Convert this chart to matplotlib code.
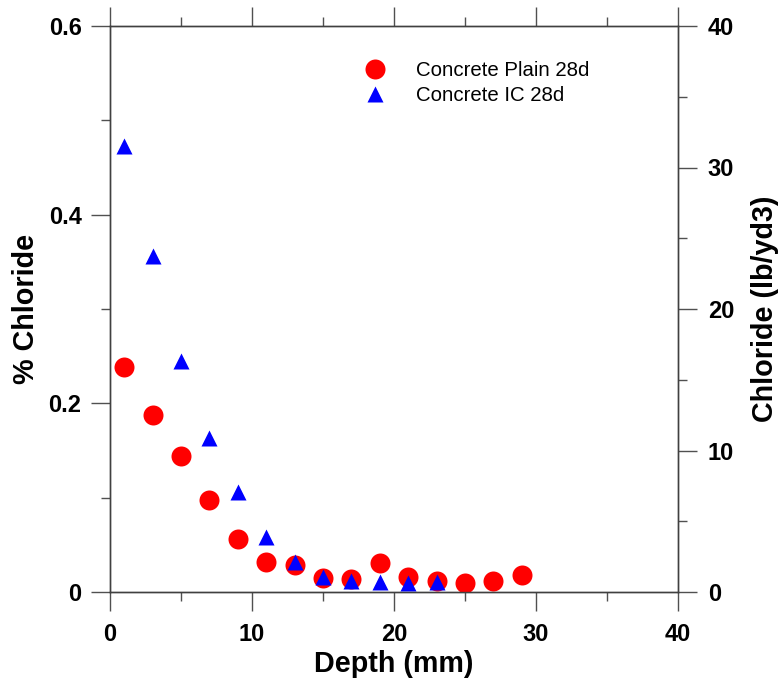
import matplotlib
matplotlib.use("Agg")
import matplotlib.pyplot as plt
from matplotlib.ticker import MultipleLocator

depth_plain = [1, 3, 5, 7, 9, 11, 13, 15, 17, 19, 21, 23, 25, 27, 29]
chloride_plain = [0.238, 0.188, 0.144, 0.098, 0.056, 0.032, 0.029, 0.015, 0.014,
                  0.031, 0.016, 0.012, 0.010, 0.012, 0.018]
depth_ic = [1, 3, 5, 7, 9, 11, 13, 15, 17, 19, 21, 23]
chloride_ic = [0.473, 0.356, 0.245, 0.163, 0.106, 0.058, 0.032, 0.016, 0.012,
               0.011, 0.010, 0.011]
label_plain = "Concrete Plain 28d"
label_ic = "Concrete IC 28d"

plt.rcParams['font.family'] = ['Liberation Sans', 'DejaVu Sans']

W, H = 781, 683
fig = plt.figure(figsize=(W / 100, H / 100), dpi=100)
ax = fig.add_axes([110 / W, 1 - 592 / H, (678 - 110) / W, (592 - 26) / H])
ax2 = ax.twinx()

ax.plot(depth_plain, chloride_plain, 'o', color='#ff0000', ms=14.4, mec='none',
        label=label_plain, zorder=3)
ax.plot(depth_ic, chloride_ic, '^', color='#0000ff', ms=12, mec='none',
        label=label_ic, zorder=4)

ax.set_xlim(0, 40)
ax.set_ylim(0, 0.6)
ax2.set_ylim(0, 40)

ax.xaxis.set_major_locator(MultipleLocator(10))
ax.xaxis.set_minor_locator(MultipleLocator(5))
ax.yaxis.set_major_locator(MultipleLocator(0.2))
ax.yaxis.set_minor_locator(MultipleLocator(0.1))
ax.yaxis.set_major_formatter(plt.FuncFormatter(lambda v, p: '0' if abs(v) < 1e-9 else f'{v:.1f}'))
ax2.yaxis.set_major_locator(MultipleLocator(10))
ax2.yaxis.set_minor_locator(MultipleLocator(5))

spine_c = '#404040'
tick_c = '#505050'
for a in (ax, ax2):
    for s in a.spines.values():
        s.set_color(spine_c)
        s.set_linewidth(1.0)

ax.tick_params(axis='x', which='both', direction='out', top=True, bottom=True,
               color=tick_c, width=1.0)
ax.tick_params(axis='x', which='major', length=13.5, pad=9, labelsize=17)
ax.tick_params(axis='x', which='minor', length=6.8)
ax.tick_params(axis='y', which='both', direction='out', left=True, right=False,
               color=tick_c, width=1.0)
ax.tick_params(axis='y', which='major', length=13.5, pad=7, labelsize=17)
ax.tick_params(axis='y', which='minor', length=6.8)
ax2.tick_params(axis='y', which='both', direction='out', color=tick_c, width=1.0)
ax2.tick_params(axis='y', which='major', length=13.5, pad=8, labelsize=17)
ax2.tick_params(axis='y', which='minor', length=6.8)

for lab in ax.get_xticklabels() + ax.get_yticklabels() + ax2.get_yticklabels():
    lab.set_fontweight('bold')

ax.set_xlabel('Depth (mm)', fontsize=20.7, fontweight='bold', labelpad=3)
ax.set_ylabel('% Chloride', fontsize=20.7, fontweight='bold', labelpad=6)
ax2.set_ylabel('Chloride (lb/yd3)', fontsize=20.7, fontweight='bold', labelpad=12)

leg = ax.legend(loc='upper left', bbox_to_anchor=(365 / W, 1 - 61 / H),
                bbox_transform=fig.transFigure, frameon=False, fontsize=14.7,
                borderpad=0, borderaxespad=0, handlelength=1.0,
                handletextpad=1.5, labelspacing=0.28, numpoints=1)

fig.savefig('out.png', dpi=100)
